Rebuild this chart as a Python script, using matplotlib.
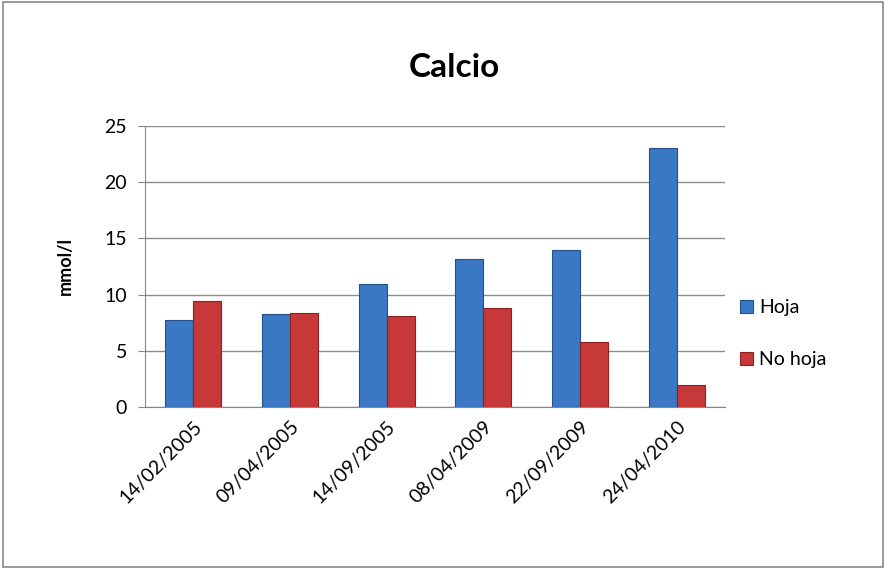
import matplotlib.pyplot as plt
import numpy as np
from matplotlib.patches import Rectangle

dates = ["14/02/2005", "09/04/2005", "14/09/2005", "08/04/2009", "22/09/2009", "24/04/2010"]
hoja = [7.7, 8.3, 10.9, 13.2, 14.0, 23.0]
no_hoja = [9.4, 8.4, 8.1, 8.8, 5.8, 2.0]

plt.rcParams['font.family'] = ['Lato', 'DejaVu Sans']

fig = plt.figure(figsize=(8.86, 5.69), dpi=100)
ax = fig.add_axes([0.1637, 0.2847, 0.6546, 0.4939])

x = np.arange(len(dates))
w = 0.29
blue = "#3b78c4"
red = "#c73838"
ax.bar(x - w/2, hoja, w, color=blue, edgecolor="#24518a", linewidth=0.8, label="Hoja", zorder=3)
ax.bar(x + w/2, no_hoja, w, color=red, edgecolor="#8a2222", linewidth=0.8, label="No hoja", zorder=3)

ax.set_xlim(-0.5, len(dates) - 0.5)
ax.set_ylim(0, 25)
ax.set_yticks([0, 5, 10, 15, 20, 25])
ax.set_xticks(x)
ax.set_xticklabels(dates, rotation=45, ha="right", rotation_mode="anchor", fontsize=14)
ax.tick_params(axis="y", labelsize=14, length=5, color="#888888", pad=8)
ax.tick_params(axis="x", length=0, pad=8)
ax.grid(axis="y", color="#8c8c8c", linewidth=1, zorder=0)
for s in ["top", "right"]:
    ax.spines[s].set_visible(False)
ax.spines["left"].set_color("#888888")
ax.spines["bottom"].set_color("#888888")
ax.set_ylabel("mmol/l", fontsize=13, fontweight="bold", labelpad=22)

fig.text(0.513, 0.882, "Calcio", ha="center", va="center", fontsize=24, fontweight="bold")

ax.legend(loc="center left", bbox_to_anchor=(0.995, 0.26), frameon=False, fontsize=14,
          handlelength=0.7, handleheight=0.7, handletextpad=0.3, labelspacing=1.8)

fig.patches.append(Rectangle((0.003, 0.003), 0.994, 0.994, transform=fig.transFigure,
                             fill=False, edgecolor="#888888", linewidth=1.2))

fig.savefig("out.png", dpi=100)
